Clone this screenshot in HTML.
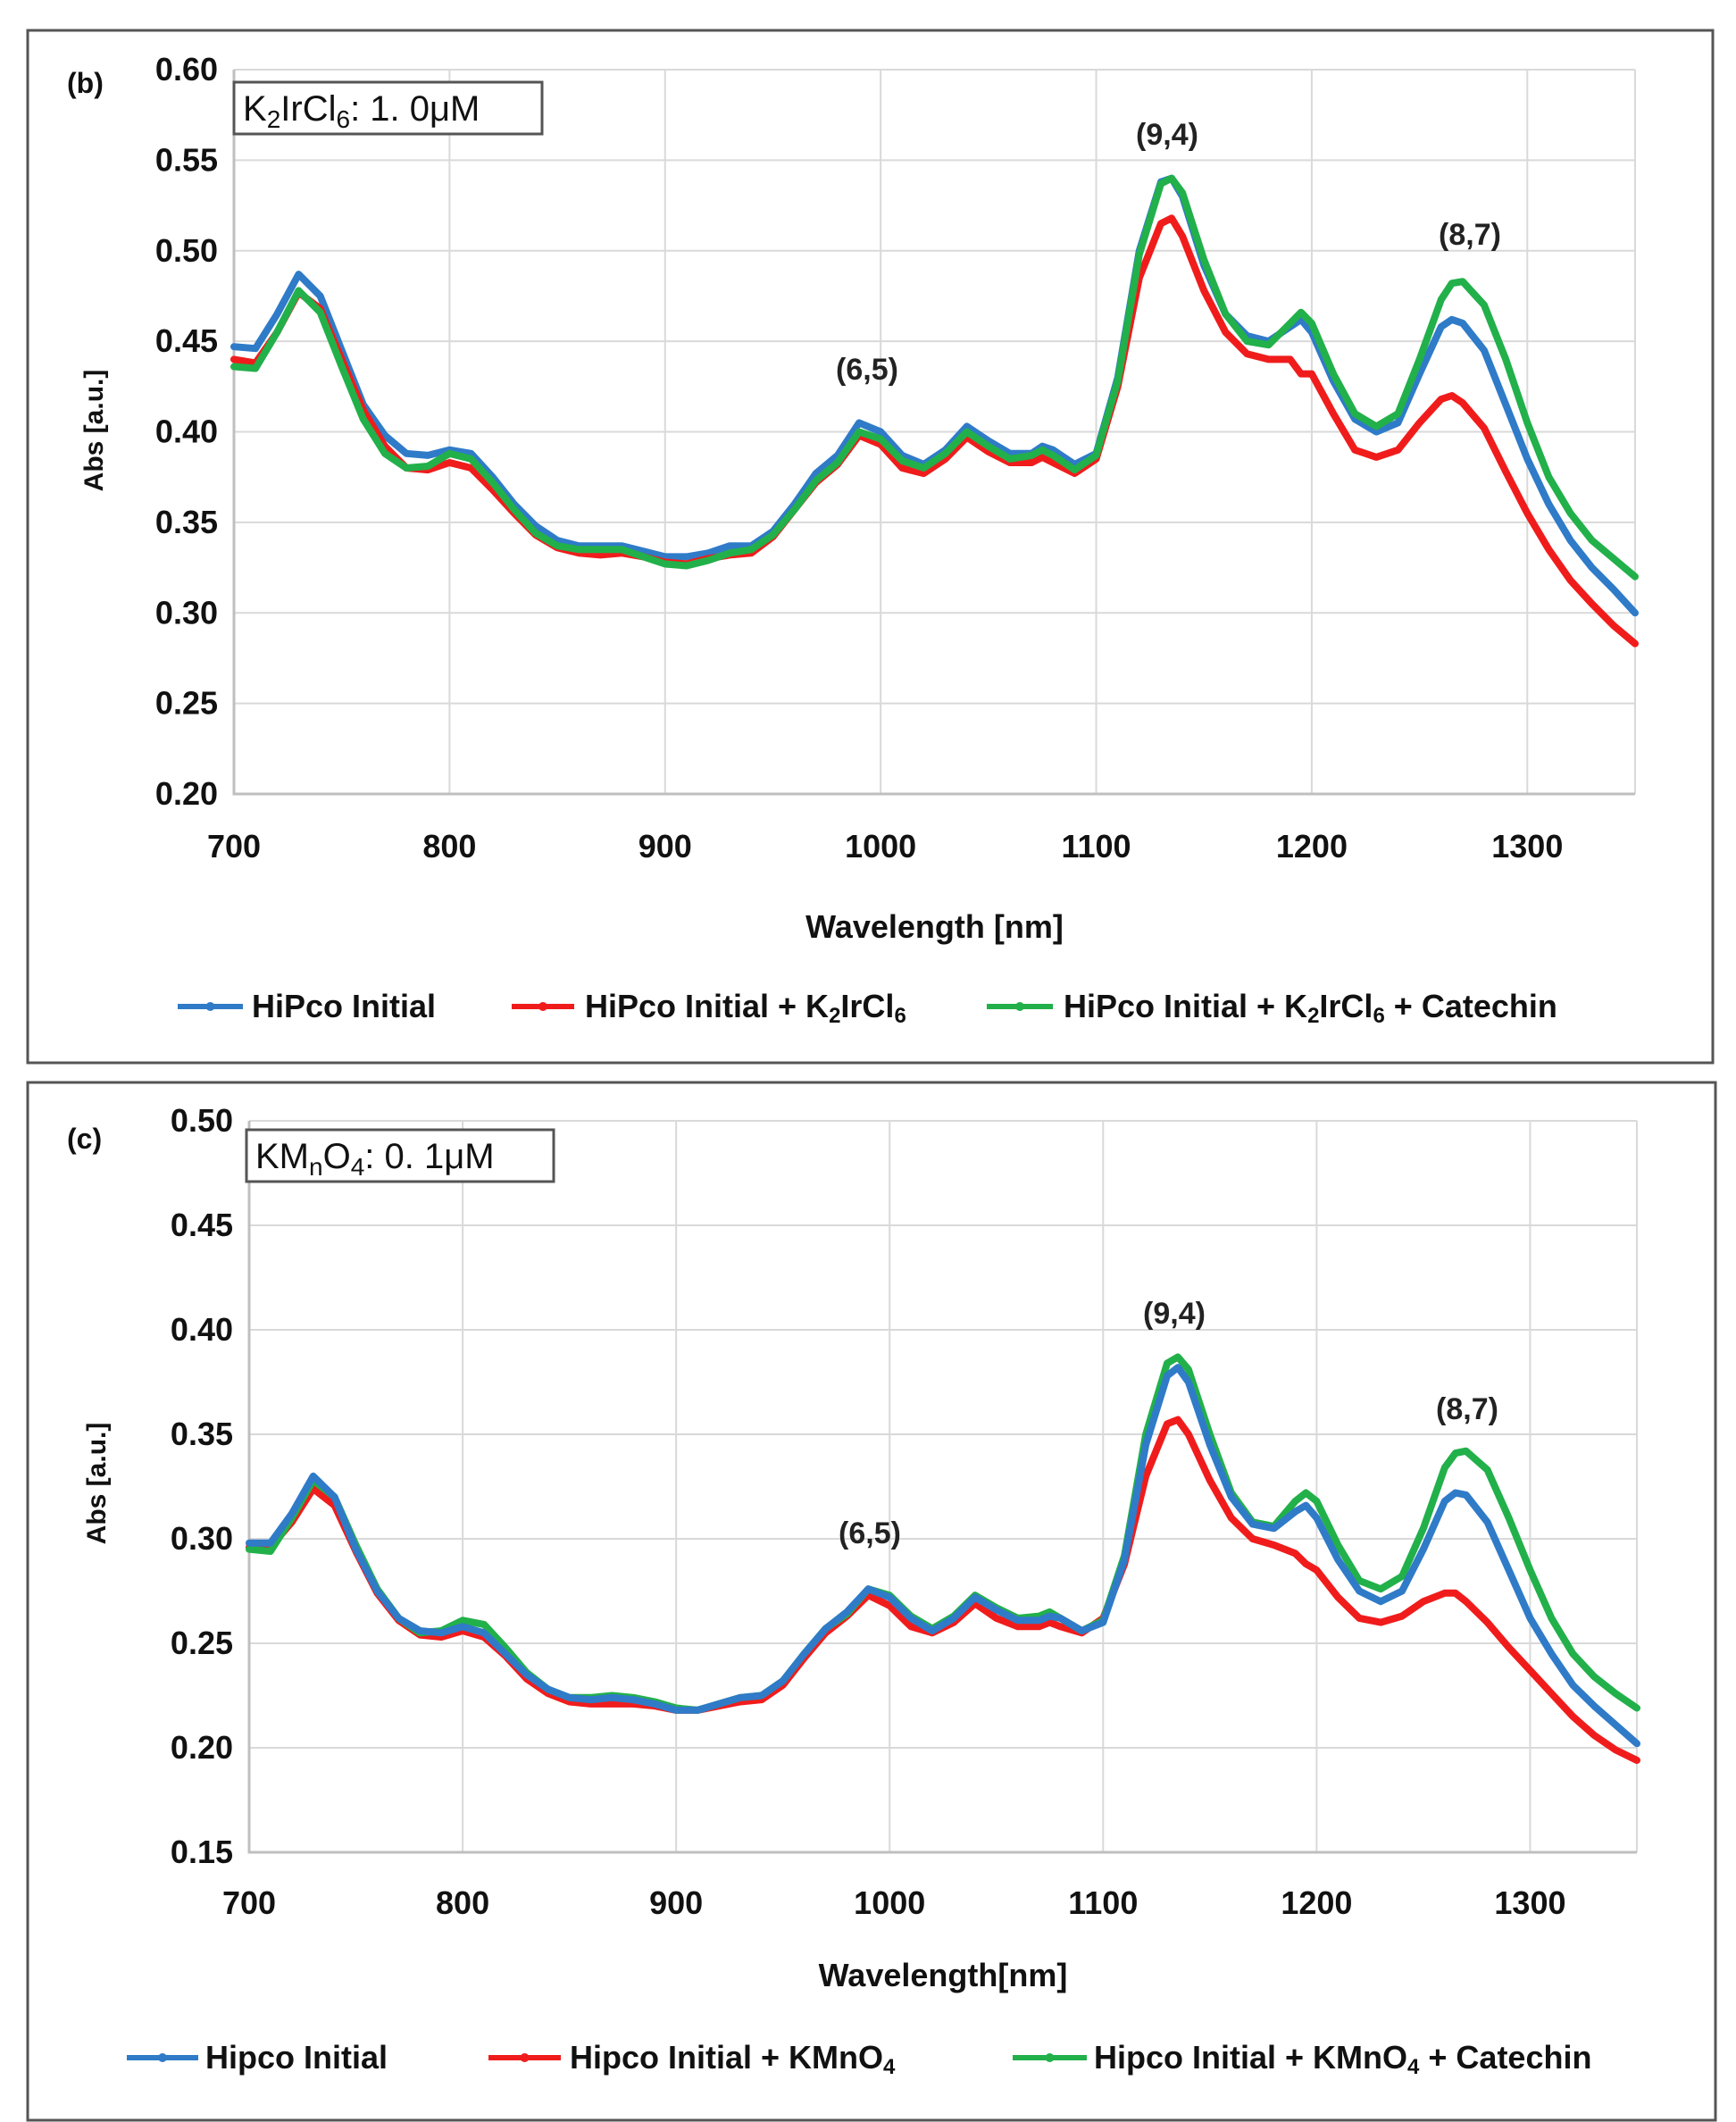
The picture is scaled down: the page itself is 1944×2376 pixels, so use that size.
<!DOCTYPE html>
<html><head><meta charset="utf-8">
<style>
body{margin:0;background:#fff;}
svg{display:block;}
text{font-family:"Liberation Sans",sans-serif;}
</style></head>
<body>
<svg id="c" width="1944" height="2376" viewBox="0 0 1944 2376"></svg>
<script>
const wavelengths=[700,710,720,730,740,750,760,770,780,790,800,810,820,830,840,850,860,870,880,890,900,910,920,930,940,950,960,970,980,990,1000,1010,1020,1030,1040,1050,1060,1070,1075,1080,1090,1100,1110,1120,1130,1135,1140,1150,1160,1170,1180,1190,1195,1200,1210,1220,1230,1240,1250,1260,1265,1270,1280,1290,1300,1310,1320,1330,1340,1350];
const bBlue=[.447,.446,.465,.487,.475,.445,.415,.398,.388,.387,.390,.388,.375,.360,.348,.340,.337,.337,.337,.334,.331,.331,.333,.337,.337,.345,.360,.377,.387,.405,.400,.387,.382,.390,.403,.395,.388,.388,.392,.390,.382,.388,.430,.500,.538,.540,.530,.492,.465,.453,.450,.458,.462,.455,.428,.407,.400,.405,.432,.458,.462,.460,.445,.415,.385,.360,.340,.325,.313,.300];
const bRed=[.440,.438,.455,.477,.468,.440,.412,.392,.380,.379,.383,.380,.368,.355,.343,.336,.333,.332,.333,.331,.328,.327,.330,.332,.333,.342,.357,.372,.382,.398,.393,.380,.377,.385,.397,.389,.383,.383,.386,.383,.377,.385,.425,.485,.515,.518,.508,.478,.455,.443,.440,.440,.432,.432,.410,.390,.386,.390,.405,.418,.420,.416,.402,.378,.355,.335,.318,.305,.293,.283];
const bGreen=[.436,.435,.455,.478,.466,.436,.407,.388,.380,.381,.388,.385,.372,.357,.344,.337,.335,.335,.335,.331,.327,.326,.329,.333,.335,.343,.357,.373,.383,.400,.396,.384,.380,.388,.400,.392,.385,.387,.390,.387,.379,.387,.428,.498,.537,.540,.532,.495,.465,.450,.448,.460,.466,.460,.432,.410,.403,.410,.440,.473,.482,.483,.470,.440,.405,.375,.355,.340,.330,.320];
const cBlue=[.298,.298,.312,.330,.320,.295,.275,.262,.256,.255,.258,.255,.245,.235,.228,.224,.223,.224,.223,.221,.218,.218,.221,.224,.225,.232,.245,.257,.265,.276,.272,.262,.256,.262,.272,.266,.261,.261,.263,.262,.256,.260,.290,.345,.378,.382,.375,.345,.320,.307,.305,.313,.316,.310,.290,.275,.270,.275,.295,.318,.322,.321,.308,.285,.262,.245,.230,.220,.211,.202];
const cRed=[.296,.296,.308,.324,.316,.294,.274,.261,.254,.253,.256,.253,.244,.233,.226,.222,.221,.221,.221,.220,.218,.218,.220,.222,.223,.230,.243,.255,.263,.273,.268,.258,.255,.260,.269,.262,.258,.258,.260,.258,.255,.262,.288,.330,.355,.357,.350,.328,.310,.300,.297,.293,.288,.285,.272,.262,.260,.263,.270,.274,.274,.270,.260,.248,.237,.226,.215,.206,.199,.194];
const cGreen=[.295,.294,.310,.328,.320,.297,.276,.262,.255,.256,.261,.259,.248,.236,.228,.224,.224,.225,.224,.222,.219,.218,.221,.224,.225,.232,.245,.257,.264,.276,.273,.263,.257,.263,.273,.267,.262,.263,.265,.262,.256,.261,.292,.350,.384,.387,.381,.350,.322,.308,.306,.318,.322,.318,.297,.280,.276,.282,.305,.334,.341,.342,.333,.310,.285,.262,.245,.234,.226,.219];
const xTicks=[700,800,900,1000,1100,1200,1300];
const bYTicks=[0.20,0.25,0.30,0.35,0.40,0.45,0.50,0.55,0.60];
const cYTicks=[0.15,0.20,0.25,0.30,0.35,0.40,0.45,0.50];
const colors={blue:"#2f7bc8",red:"#f01c1c",green:"#22b04a"};
const NS="http://www.w3.org/2000/svg";
const svg=document.getElementById('c');
function mk(tag,attrs,parent,txt){const e=document.createElementNS(NS,tag);for(const k in attrs)e.setAttribute(k,attrs[k]);if(txt!==undefined)e.textContent=txt;(parent||svg).appendChild(e);return e;}

function panel(P){
  const g=mk('g',{});
  
  
  const fr=mk('rect',{x:P.fx,y:P.fy,width:P.fw,height:P.fh,fill:'#fff',stroke:'#555',"stroke-width":3},g);
  
  
  const X=v=>P.x0+(v-700)/650*(P.x1-P.x0);
  const Y=v=>P.y1-(v-P.ymin)/(P.ymax-P.ymin)*(P.y1-P.y0);
  for(const t of xTicks){const l=mk('line',{x1:X(t),x2:X(t),y1:P.y0,y2:P.y1,stroke:'#d9d9d9',"stroke-width":2},g);
    
    
    const tx=mk('text',{x:X(t),y:P.xlab,"text-anchor":"middle","font-size":36,"font-weight":"bold",fill:'#111'},g,String(t));
    
    }
  mk('line',{x1:P.x1,x2:P.x1,y1:P.y0,y2:P.y1,stroke:'#d9d9d9',"stroke-width":2},g);
  for(const t of P.yt){const l=mk('line',{x1:P.x0,x2:P.x1,y1:Y(t),y2:Y(t),stroke:'#d9d9d9',"stroke-width":2},g);
    
    
    const tx=mk('text',{x:P.x0-18,y:Y(t)+12,"text-anchor":"end","font-size":36,"font-weight":"bold",fill:'#111'},g,t.toFixed(2));
    
    }
  const ax=mk('path',{d:`M${P.x0},${P.y0}V${P.y1}H${P.x1}`,fill:'none',stroke:'#bfbfbf',"stroke-width":3},g);
  
  
  const series=[[P.g,colors.green],[P.r,colors.red],[P.b,colors.blue]];
  const order=P.order;
  for(const i of order){const [vals,col]=series[i];
    const pts=wavelengths.map((w,k)=>X(w).toFixed(1)+','+Y(vals[k]).toFixed(1)).join(' ');
    const pl=mk('polyline',{points:pts,fill:'none',stroke:col,"stroke-width":8,"stroke-linejoin":"round","stroke-linecap":"round"},g);
    
    }
  const yt=mk('text',{x:0,y:0,transform:`translate(${P.ytx},${P.yty}) rotate(-90)`,"text-anchor":"middle","font-size":30,"font-weight":"bold",fill:'#111'},g,'Abs [a.u.]');
  
  
  const xt=mk('text',{x:(P.x0+P.x1)/2,y:P.xty,"text-anchor":"middle","font-size":36,"font-weight":"bold",fill:'#111'},g,P.xtitle);
  
  
  const pl=mk('text',{x:75,y:P.ply,"font-size":32,"font-weight":"bold",fill:'#111'},g,P.plabel);
  
  
  const bx=mk('rect',{x:P.bx,y:P.by,width:P.bw,height:58,fill:'#fff',stroke:'#555',"stroke-width":3},g);
  
  
  const bt=mk('text',{x:P.bx+10,y:P.by+43,"font-family":"Liberation Serif,serif","font-size":40,fill:'#111'},g);
  
  
  bt.innerHTML=P.boxHtml;
  for(const a of P.ann){const t=mk('text',{x:a[0],y:a[1],"text-anchor":"middle","font-size":34,"font-weight":"bold",fill:'#222'},g,a[2]);
    
    }
  const cols=[colors.blue,colors.red,colors.green];
  P.leg.forEach((L,i)=>{const lg=mk('g',{},g);
    
    
    mk('line',{x1:L[0],x2:L[1],y1:P.ly,y2:P.ly,stroke:cols[i],"stroke-width":6},lg);
    mk('circle',{cx:(L[0]+L[1])/2,cy:P.ly,r:5,fill:cols[i]},lg);
    const t=mk('text',{x:L[2],y:P.ly+12,"font-size":36,"font-weight":"bold",fill:'#111'},lg);
    t.innerHTML=L[3];});
}
panel({name:'panel-b-chart',fx:31,fy:34,fw:1887,fh:1156,x0:262,x1:1831,y0:78,y1:889,ymin:0.20,ymax:0.60,yt:bYTicks,
  b:bBlue,r:bRed,g:bGreen,order:[2,1,0],xlab:960,xty:1050,xtitle:'Wavelength [nm]',ytx:115,yty:482,plabel:'(b)',ply:104,
  bx:262,by:92,bw:345,boxHtml:'K<tspan font-size="28" dy="8">2</tspan><tspan dy="-8">IrCl</tspan><tspan font-size="28" dy="8">6</tspan><tspan dy="-8">: 1. 0μM</tspan>',
  ann:[[971,425,'(6,5)'],[1307,162,'(9,4)'],[1646,274,'(8,7)']],ly:1127,
  leg:[[199,272,282,'HiPco Initial'],[573,643,655,'HiPco Initial + K<tspan font-size="24" dy="6">2</tspan><tspan dy="-6">IrCl</tspan><tspan font-size="24" dy="6">6</tspan>'],[1105,1179,1191,'HiPco Initial + K<tspan font-size="24" dy="6">2</tspan><tspan dy="-6">IrCl</tspan><tspan font-size="24" dy="6">6</tspan><tspan dy="-6"> + Catechin</tspan>']]});
panel({name:'panel-c-chart',fx:31,fy:1212,fw:1890,fh:1162,x0:279,x1:1833,y0:1255,y1:2074,ymin:0.15,ymax:0.50,yt:cYTicks,
  b:cBlue,r:cRed,g:cGreen,order:[1,0,2],xlab:2143,xty:2224,xtitle:'Wavelength[nm]',ytx:118,yty:1661,plabel:'(c)',ply:1286,
  bx:276,by:1265,bw:344,boxHtml:'KM<tspan font-size="28" dy="8">n</tspan><tspan dy="-8">O</tspan><tspan font-size="28" dy="8">4</tspan><tspan dy="-8">: 0. 1μM</tspan>',
  ann:[[974,1728,'(6,5)'],[1315,1482,'(9,4)'],[1643,1589,'(8,7)']],ly:2304,
  leg:[[142,222,230,'Hipco Initial'],[547,628,638,'Hipco Initial + KMnO<tspan font-size="24" dy="6">4</tspan>'],[1134,1217,1225,'Hipco Initial + KMnO<tspan font-size="24" dy="6">4</tspan><tspan dy="-6"> + Catechin</tspan>']]});
</script>
</body></html>
